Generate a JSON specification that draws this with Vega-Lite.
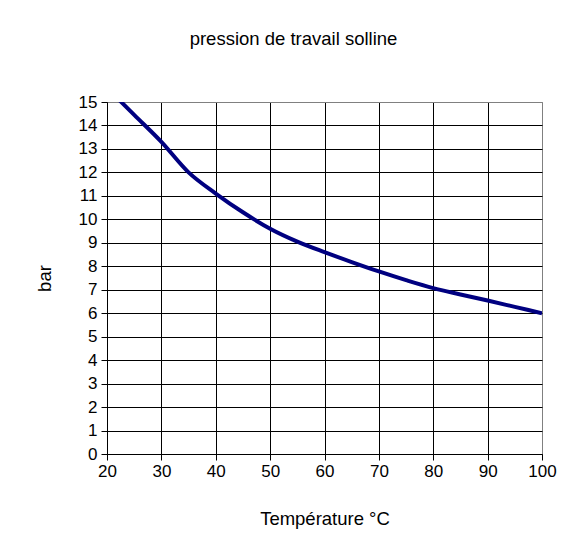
{
  "$schema": "https://vega.github.io/schema/vega-lite/v6.json",
  "autosize": "none",
  "width": 435,
  "height": 352,
  "padding": {"left": 107, "top": 102, "right": 36, "bottom": 99},
  "background": "white",
  "title": {
    "text": "pression de travail solline",
    "anchor": "middle",
    "frame": "group",
    "dx": -31,
    "offset": 45,
    "font": "Liberation Sans",
    "fontSize": 18.5,
    "fontWeight": "normal",
    "color": "black"
  },
  "config": {
    "view": {"stroke": "#808080", "strokeWidth": 1},
    "axis": {
      "labelFont": "Liberation Sans",
      "titleFont": "Liberation Sans",
      "labelFontSize": 17,
      "titleFontSize": 18.5,
      "titleFontWeight": "normal",
      "labelColor": "black",
      "titleColor": "black",
      "domainColor": "black",
      "tickColor": "black",
      "tickSize": 6,
      "grid": true,
      "gridOpacity": 1,
      "gridWidth": 1
    }
  },
  "data": {
    "values": [
      {"t": 20, "p": 15.6},
      {"t": 25, "p": 14.45},
      {"t": 30, "p": 13.3},
      {"t": 35, "p": 12.0},
      {"t": 40, "p": 11.1},
      {"t": 45, "p": 10.3},
      {"t": 50, "p": 9.6},
      {"t": 55, "p": 9.05},
      {"t": 60, "p": 8.6},
      {"t": 65, "p": 8.18},
      {"t": 70, "p": 7.78},
      {"t": 75, "p": 7.41},
      {"t": 80, "p": 7.07},
      {"t": 85, "p": 6.8},
      {"t": 90, "p": 6.54},
      {"t": 95, "p": 6.27},
      {"t": 100, "p": 6.0}
    ]
  },
  "mark": {"type": "line", "color": "#000080", "strokeWidth": 4, "clip": true, "interpolate": "monotone"},
  "encoding": {
    "x": {
      "field": "t",
      "type": "quantitative",
      "title": "Température °C",
      "scale": {"domain": [20, 100], "nice": false, "zero": false},
      "axis": {
        "values": [20, 30, 40, 50, 60, 70, 80, 90, 100],
        "labelPadding": 3,
        "titlePadding": 30,
        "gridColor": {"condition": {"test": "datum.value == 100", "value": "#808080"}, "value": "black"},
        "labelFlush": false
      }
    },
    "y": {
      "field": "p",
      "type": "quantitative",
      "title": "bar",
      "scale": {"domain": [0, 15], "nice": false},
      "axis": {
        "values": [0, 1, 2, 3, 4, 5, 6, 7, 8, 9, 10, 11, 12, 13, 14, 15],
        "labelPadding": 4,
        "titlePadding": 24,
        "gridColor": {"condition": {"test": "datum.value == 15", "value": "#808080"}, "value": "black"},
        "labelFlush": false
      }
    }
  }
}
